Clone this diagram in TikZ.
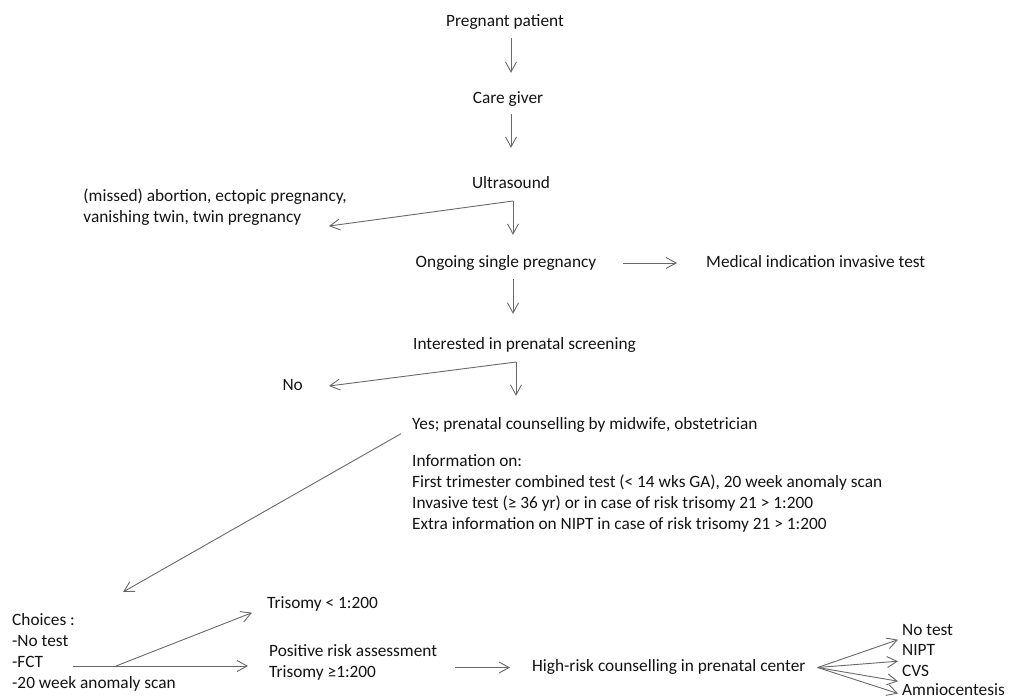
\documentclass[tikz,border=0pt]{standalone}
\usepackage{fontspec}
\setmainfont{Carlito}
\usetikzlibrary{arrows.meta}
\definecolor{lncol}{RGB}{105,105,105}
\definecolor{txcol}{RGB}{20,20,20}
\begin{document}
\begin{tikzpicture}[x=1pt,y=-1pt,
  lbl0/.style={inner sep=0pt, font=\fontsize{17.3}{21}\selectfont, text=txcol},
  lbl/.style={lbl0, text height=12pt, text depth=4pt},
  blk/.style={lbl0, align=left, anchor=north west, execute at begin node={\rule{0pt}{13pt}}},
  arr/.style={draw=lncol, line width=0.9pt, -{Straight Barb[length=10pt,width=11pt,line width=0.9pt]}},
  plain/.style={draw=lncol, line width=0.9pt}]
\useasboundingbox (0,0) rectangle (1017,699);
\fill[white] (0,0) rectangle (1017,699);

% nodes
\node[lbl,anchor=base] (pp) at (505,26.5) {Pregnant patient};
\node[lbl,anchor=base] (cg) at (508,103) {Care giver};
\node[lbl,anchor=base] (us) at (511,188) {Ultrasound};
\node[blk,anchor=north east] (ab) at (347,189) {(missed) abortion, ectopic pregnancy,\\vanishing twin, twin pregnancy};
\node[lbl,anchor=base] (os) at (506,267) {Ongoing single pregnancy};
\node[lbl,anchor=base west] (mi) at (706,267) {Medical indication invasive test};
\node[lbl,anchor=base west] (ip) at (413,349.5) {Interested in prenatal screening};
\node[lbl,anchor=base east] (no) at (303,390) {No};
\node[lbl,anchor=base west] (yes) at (412,429.5) {Yes; prenatal counselling by midwife, obstetrician};
\node[blk] (info) at (412,454) {Information on:\\First trimester combined test (< 14 wks GA), 20 week anomaly scan\\Invasive test (≥ 36 yr) or in case of risk trisomy 21 > 1:200\\Extra information on NIPT in case of risk trisomy 21 > 1:200};
\node[blk] (ch) at (12,613) {Choices :\\-No test\\-FCT\\-20 week anomaly scan};
\node[lbl,anchor=base west] (tl) at (267,608.5) {Trisomy < 1:200};
\node[blk] (pr) at (269,644) {Positive risk assessment\\Trisomy ≥1:200};
\node[lbl,anchor=base west] (hr) at (532,671.5) {High-risk counselling in prenatal center};
\node[lbl,anchor=base west] (o1) at (902,635) {No test};
\node[lbl,anchor=base west] (o2) at (902,655.5) {NIPT};
\node[lbl,anchor=base west] (o3) at (902,676) {CVS};
\node[lbl,anchor=base west] (o4) at (902,695.5) {Amniocentesis};

% junctions
\coordinate (j1) at (513,201);
\coordinate (j2) at (516,362);
\coordinate (fct) at (73,666);
\coordinate (j3) at (116,666);
\coordinate (j4) at ([xshift=12pt]hr.east);

% connectors
\draw[arr,shorten <=7.5pt,shorten >=18pt] (pp.south -| us) -- (cg.north -| us);
\draw[arr,shorten <=7pt,shorten >=28pt] (cg.south -| us) -- (us.north);
\draw[arr,shorten >=20pt] (j1) -- (os.north -| j1);
\draw[arr] (j1) -- ([xshift=-18pt]ab.south east);
\draw[arr,shorten <=26.5pt,shorten >=29pt] (os.east) -- (mi.west);
\draw[arr,shorten <=8pt,shorten >=23.5pt] (os.south -| j1) -- (ip.north -| j1);
\draw[arr,shorten >=21.5pt] (j2) -- (yes.north -| j2);
\draw[arr] (j2) -- ([xshift=26pt]no.east);
\draw[arr] ([xshift=-11pt]yes.south west) -- ([xshift=111pt,yshift=21pt]ch.north west);
\draw[arr,shorten >=21pt] (fct) -- (pr.west |- fct);
\draw[arr] (j3) -- ([xshift=-15pt]tl.south west);
\draw[arr,shorten <=18pt,shorten >=22pt] (pr.east |- hr) -- (hr.west);
\draw[arr] (j4) -- ([xshift=-4pt,yshift=-0.5pt]o1.south west);
\draw[arr] (j4) -- ([xshift=-4pt,yshift=-1.5pt]o2.south west);
\draw[arr] (j4) -- ([xshift=-4pt,yshift=-1pt]o3.south west);
\draw[arr] (j4) -- ([xshift=-4pt,yshift=-2pt]o4.west);
\end{tikzpicture}
\end{document}
